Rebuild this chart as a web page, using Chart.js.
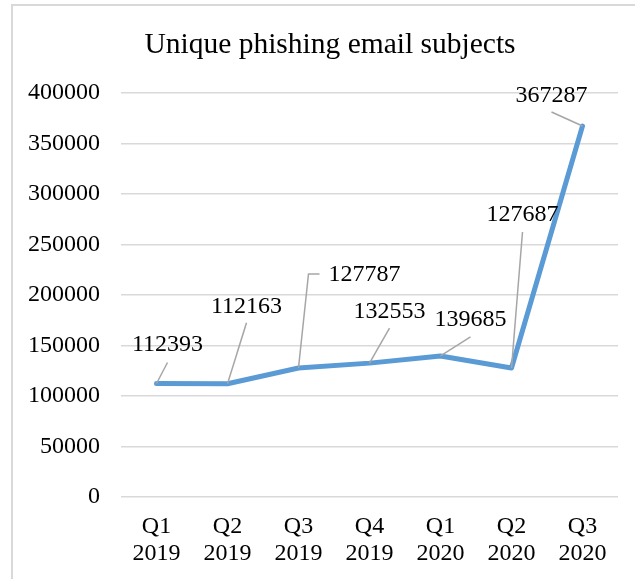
<!DOCTYPE html>
<html>
<head>
<meta charset="utf-8">
<script src="https://cdn.jsdelivr.net/npm/chart.js@4"></script>
<style>
  html, body { margin: 0; padding: 0; background: #fff; }
  #wrap { width: 635px; height: 579px; position: relative; }
</style>
</head>
<body>
<div id="wrap"><canvas id="Canvas" width="635" height="579"></canvas></div>
<script>
const quarters = [["Q1", "2019"], ["Q2", "2019"], ["Q3", "2019"], ["Q4", "2019"], ["Q1", "2020"], ["Q2", "2020"], ["Q3", "2020"]];
const subjects = [112393, 112163, 127787, 132553, 139685, 127687, 367287];
const yTicks = [0, 50000, 100000, 150000, 200000, 250000, 300000, 350000, 400000];
const chartTitle = "Unique phishing email subjects";

const serif = "'Liberation Serif', 'Times New Roman', serif";

// where each value label sits relative to its point, and where its leader starts
const labelSpots = [
  { text: [11, -39], lead: [[11, -21]] },
  { text: [19, -77], lead: [[19, -61]] },
  { text: [66, -93], lead: [[10, -94], [21, -94]] },
  { text: [20, -51], lead: [[20, -35]] },
  { text: [30, -36], lead: [[30, -19]] },
  { text: [11, -153], lead: [[11, -136]] },
  { text: [-31, -30], lead: [[-31, -14]] }
];

// white background, outer frame and the heading
const frame = {
  id: "frame",
  beforeDraw(chart) {
    const c = chart.ctx;
    c.save();
    c.fillStyle = "#fff";
    c.fillRect(0, 0, chart.width, chart.height);
    c.strokeStyle = "#D9D9D9";
    c.lineWidth = 2;
    c.strokeRect(12, 5, 700, 700);
    c.fillStyle = "#000";
    c.font = "29.5px " + serif;
    c.textAlign = "center";
    c.textBaseline = "middle";
    c.fillText(chartTitle, 330, 45);
    c.restore();
  }
};

const valueLabels = {
  id: "valueLabels",
  afterDatasetsDraw(chart) {
    const c = chart.ctx;
    const pts = chart.getDatasetMeta(0).data;
    c.save();
    pts.forEach((p, i) => {
      const spot = labelSpots[i];
      c.strokeStyle = "#A6A6A6";
      c.lineWidth = 1.5;
      c.beginPath();
      c.moveTo(p.x, p.y);
      spot.lead.forEach(([dx, dy]) => c.lineTo(p.x + dx, p.y + dy));
      c.stroke();
      c.fillStyle = "#000";
      c.font = "24px " + serif;
      c.textAlign = "center";
      c.textBaseline = "middle";
      c.fillText(String(subjects[i]), p.x + spot.text[0], p.y + spot.text[1]);
    });
    c.restore();
  }
};

const ctx = document.getElementById("Canvas").getContext("2d");
const lineChart = new Chart(ctx, {
  type: "line",
  data: {
    labels: quarters,
    datasets: [{
      label: chartTitle,
      data: subjects,
      borderColor: "#5B9BD5",
      borderWidth: 5,
      borderJoinStyle: "round",
      borderCapStyle: "round",
      pointRadius: 0,
      tension: 0,
      fill: false
    }]
  },
  options: {
    responsive: false,
    animation: false,
    layout: { padding: { left: 0, right: 17, top: 93, bottom: 0 } },
    plugins: {
      legend: { display: false },
      tooltip: { enabled: false },
      title: { display: false }
    },
    scales: {
      x: {
        offset: true,
        grid: { display: false, drawTicks: false },
        border: { display: false },
        ticks: {
          color: "#000",
          font: { family: serif, size: 24, lineHeight: 1.09 },
          padding: 17,
          autoSkip: false,
          maxRotation: 0
        },
        afterFit(scale) { scale.height = 82; }
      },
      y: {
        min: 0,
        max: 400000,
        afterBuildTicks(scale) { scale.ticks = yTicks.map(v => ({ value: v })); },
        grid: { color: "#D9D9D9", lineWidth: 1.5, drawTicks: false },
        border: { display: false },
        ticks: {
          color: "#000",
          font: { family: serif, size: 24 },
          padding: 21,
          callback: v => String(v)
        },
        afterFit(scale) { scale.width = 121; }
      }
    }
  },
  plugins: [frame, valueLabels]
});
</script>
</body>
</html>
